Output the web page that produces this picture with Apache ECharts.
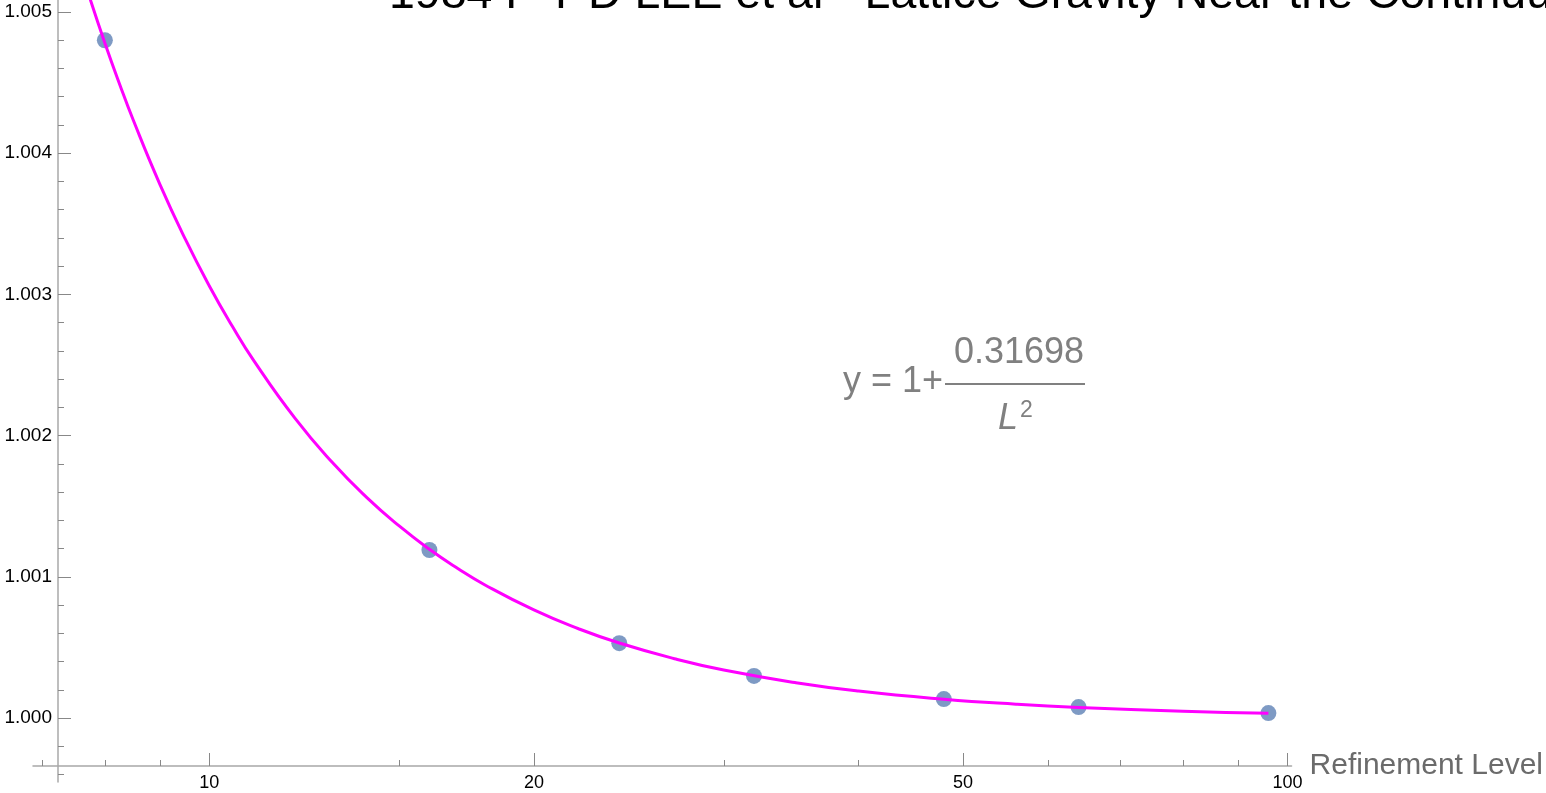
<!DOCTYPE html>
<html><head><meta charset="utf-8">
<script src="https://cdn.jsdelivr.net/npm/echarts@6/dist/echarts.min.js"></script>
<style>html,body{margin:0;padding:0;background:#fff}#c{width:1546px;height:793px}</style>
</head><body><div id="c"></div>
<script>
// Data points
const refinementLevels = [8, 16, 24, 32, 48, 64, 96];
const ratioValues = [1.0048, 1.00119, 1.00053, 1.000298, 1.000134, 1.000077, 1.000035];
// Fitted curve
const fitL = [7.5, 7.75, 8, 8.25, 8.5, 9, 9.5, 10, 10.5, 11, 12, 13, 14, 15, 16, 17, 18, 20, 22, 24, 27, 30, 35, 40, 48, 56, 64, 80, 96];
const fitY = [1.00544, 1.005095, 1.004781, 1.004496, 1.004235, 1.003778, 1.003391, 1.00306, 1.002776, 1.002529, 1.002125, 1.001811, 1.001561, 1.00136, 1.001195, 1.001059, 1.000944, 1.000765, 1.000632, 1.000531, 1.00042, 1.00034, 1.00025, 1.000191, 1.000133, 1.0000976, 1.0000747, 1.0000478, 1.0000332];
// Tick values
const xMajorTicks = [10, 20, 50, 100];
const xMinorTicks = [7, 8, 9, 15, 30, 40, 60, 70, 80, 90];
const yMajorTicks = [1.000, 1.001, 1.002, 1.003, 1.004, 1.005];
const yMinorTicks = [0.9996, 0.9998, 1.0002, 1.0004, 1.0006, 1.0008, 1.0012, 1.0014, 1.0016, 1.0018, 1.0022, 1.0024, 1.0026, 1.0028, 1.0032, 1.0034, 1.0036, 1.0038, 1.0042, 1.0044, 1.0046, 1.0048];
const titleText = '1984 F T D LEE et al - Lattice Gravity Near the Continuum Limit';
const xAxisName = 'Refinement Level';

const FONT = 'Liberation Sans, Arial, sans-serif';
const X_MIN = 6.862, X_MAX = 100.86, Y_MIN = 0.9995467, Y_MAX = 1.005085;
const axisLineStyle = {color: '#a8a8a8', width: 1.5};
const tickStyle = {color: '#888888', width: 1};

const chart = echarts.init(document.getElementById('c'), null, {renderer: 'canvas'});
const option = {
  backgroundColor: '#ffffff',
  animation: false,
  grid: {left: 33, right: 251, top: 0, bottom: 11, containLabel: false},
  xAxis: [
    {type: 'log', logBase: 10, min: X_MIN, max: X_MAX, position: 'bottom', offset: -16,
     axisLine: {show: true, lineStyle: axisLineStyle},
     axisTick: {show: true, inside: true, length: 13, lineStyle: tickStyle, customValues: xMajorTicks},
     axisLabel: {show: true, customValues: xMajorTicks, margin: 8, color: '#000', fontSize: 18, fontFamily: FONT,
                 formatter: v => String(Math.round(v))},
     splitLine: {show: false}, minorTick: {show: false},
     name: xAxisName, nameLocation: 'end', nameGap: 18,
     nameTextStyle: {fontSize: 30, color: '#6b6b6b', fontFamily: FONT, align: 'left', verticalAlign: 'middle'}},
    {type: 'log', logBase: 10, min: X_MIN, max: X_MAX, position: 'bottom', offset: -16,
     axisLine: {show: false},
     axisTick: {show: true, inside: true, length: 6, lineStyle: tickStyle, customValues: xMinorTicks},
     axisLabel: {show: false}, splitLine: {show: false}}
  ],
  yAxis: [
    {type: 'value', min: Y_MIN, max: Y_MAX, position: 'left', offset: -25,
     axisLine: {show: true, lineStyle: axisLineStyle},
     axisTick: {show: true, inside: true, length: 13, lineStyle: tickStyle, customValues: yMajorTicks},
     axisLabel: {show: true, customValues: yMajorTicks, margin: 6, color: '#000', fontSize: 19, fontFamily: FONT,
                 formatter: v => v.toFixed(3)},
     splitLine: {show: false}},
    {type: 'value', min: Y_MIN, max: Y_MAX, position: 'left', offset: -25,
     axisLine: {show: false},
     axisTick: {show: true, inside: true, length: 6, lineStyle: tickStyle, customValues: yMinorTicks},
     axisLabel: {show: false}, splitLine: {show: false}}
  ],
  series: [
    {type: 'scatter', xAxisIndex: 0, yAxisIndex: 0, symbol: 'circle', symbolSize: 16,
     itemStyle: {color: '#5E81B5'}, z: 2,
     data: refinementLevels.map((l, i) => [l, ratioValues[i]])},
    {type: 'line', xAxisIndex: 0, yAxisIndex: 0, smooth: true, showSymbol: false, clip: true,
     lineStyle: {color: '#FF00FF', width: 3}, itemStyle: {color: '#FF00FF'}, z: 3,
     data: fitL.map((l, i) => [l, fitY[i]])}
  ],
  graphic: [
    {type: 'text', left: 389, top: -28, z: 10,
     style: {text: titleText, fontSize: 46.5, fontFamily: FONT, fill: '#000'}},
    {type: 'text', x: 843, y: 382, z: 10,
     style: {text: 'y = 1+', fontSize: 36, fontFamily: FONT, fill: '#808080', verticalAlign: 'middle', align: 'left'}},
    {type: 'text', x: 1019, y: 353, z: 10,
     style: {text: '0.31698', fontSize: 36, fontFamily: FONT, fill: '#808080', verticalAlign: 'middle', align: 'center'}},
    {type: 'line', z: 10, shape: {x1: 945, y1: 384, x2: 1085, y2: 384}, style: {stroke: '#808080', lineWidth: 2}},
    {type: 'text', x: 998, y: 419, z: 10,
     style: {text: 'L', fontSize: 36, fontStyle: 'italic', fontFamily: FONT, fill: '#808080', verticalAlign: 'middle', align: 'left'}},
    {type: 'text', x: 1020, y: 411, z: 10,
     style: {text: '2', fontSize: 23, fontFamily: FONT, fill: '#808080', verticalAlign: 'middle', align: 'left'}}
  ]
};
chart.setOption(option);
</script>
</body></html>
